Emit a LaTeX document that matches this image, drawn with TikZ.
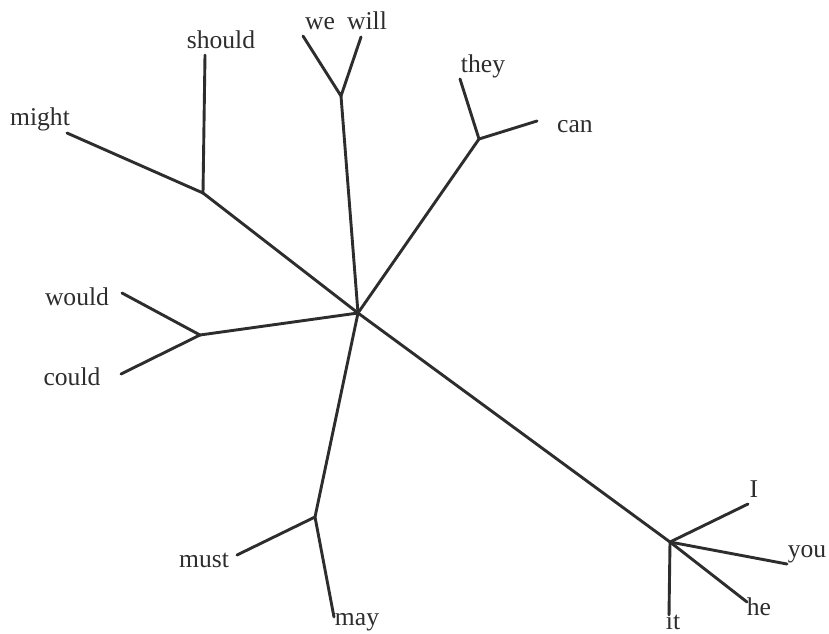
\documentclass[tikz,border=0pt]{standalone}
\usepackage{fontspec}
\setmainfont{Liberation Serif}
\usepackage{tikz}
\definecolor{ink}{RGB}{45,45,45}

\begin{document}
\begin{tikzpicture}[x=0.5pt, y=-0.5pt,
    every node/.style={font=\fontsize{12.8}{14}\selectfont, text=ink, inner sep=0pt},
    edge/.style={draw=ink, line width=1.45pt, line cap=round, line join=round}]
  \useasboundingbox (0,0) rectangle (829,633);

  % Inner junctions
  \coordinate (hub) at (358,313);
  \coordinate (jMight) at (203,193);
  \coordinate (jWe) at (341,96);
  \coordinate (jThey) at (479,139);
  \coordinate (jWould) at (200,335);
  \coordinate (jMust) at (315,517);
  \coordinate (jI) at (670,542);

  % Leaf ends
  \coordinate (eShould) at (205,55);
  \coordinate (eMight) at (67,133);
  \coordinate (eWe) at (303,36);
  \coordinate (eWill) at (361,37);
  \coordinate (eThey) at (460,79);
  \coordinate (eCan) at (537,121);
  \coordinate (eWould) at (122,293);
  \coordinate (eCould) at (121,374);
  \coordinate (eMust) at (237,555);
  \coordinate (eMay) at (334,617);
  \coordinate (eI) at (748,504);
  \coordinate (eYou) at (787,564);
  \coordinate (eHe) at (747,602);
  \coordinate (eIt) at (669,615);

  % Branches
  \draw[edge] (hub) -- (jMight);
  \draw[edge] (hub) -- (jWe);
  \draw[edge] (hub) -- (jThey);
  \draw[edge] (hub) -- (jWould);
  \draw[edge] (hub) -- (jMust);
  \draw[edge] (hub) -- (jI);

  \draw[edge] (eShould) -- (jMight) -- (eMight);
  \draw[edge] (eWe) -- (jWe) -- (eWill);
  \draw[edge] (eThey) -- (jThey) -- (eCan);
  \draw[edge] (eWould) -- (jWould) -- (eCould);
  \draw[edge] (eMust) -- (jMust) -- (eMay);
  \draw[edge] (jI) -- (eI);
  \draw[edge] (jI) -- (eYou);
  \draw[edge] (jI) -- (eHe);
  \draw[edge] (jI) -- (eIt);

  % Labels
  \node (should) at (221,40) {should};
  \node (might) at (40,119) {might};
  \node (we) at (320,24) {we};
  \node (will) at (367,21) {will};
  \node (they) at (483,66) {they};
  \node (can) at (575,127) {can};
  \node (would) at (77,297) {would};
  \node (could) at (72,377) {could};
  \node (must) at (204,560) {must};
  \node (may) at (357,622) {may};
  \node (I) at (754,489) {I};
  \node (you) at (807,554) {you};
  \node (he) at (759,607) {he};
  \node (it) at (673,621) {it};
\end{tikzpicture}
\end{document}
